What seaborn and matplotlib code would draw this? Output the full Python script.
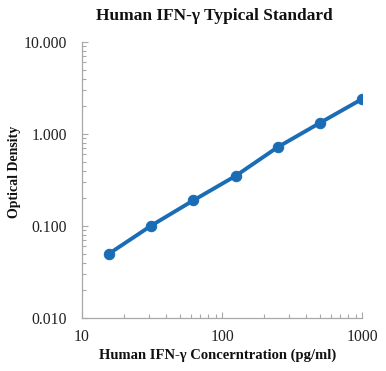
import matplotlib
matplotlib.use("Agg")
import matplotlib.pyplot as plt
import matplotlib.ticker as mticker
import seaborn as sns
import pandas as pd

concentration = [15.6, 31.25, 62.5, 125, 250, 500, 1000]
optical_density = [0.050, 0.101, 0.190, 0.350, 0.720, 1.320, 2.400]
x_ticks = [10, 100, 1000]
y_ticks = [0.01, 0.1, 1, 10]
y_tick_labels = ["0.010", "0.100", "1.000", "10.000"]

df = pd.DataFrame({"conc": concentration, "od": optical_density})

sns.set_theme(style="white")
plt.rcParams['font.family'] = ['Liberation Serif', 'DejaVu Serif']

fig = plt.figure(figsize=(3.86, 3.71), dpi=100)
ax = fig.add_axes([0.2124, 0.1429, 0.7256, 0.7439])
color = "#1a6db5"
sns.lineplot(data=df, x="conc", y="od", ax=ax, color=color, linewidth=2.8,
             marker="o", markersize=7.5, markeredgecolor=color)
ax.set_xscale("log")
ax.set_yscale("log")
ax.set_xlim(10, 1000)
ax.set_ylim(0.01, 10)
ax.set_xticks(x_ticks)
ax.set_xticklabels([str(t) for t in x_ticks])
ax.set_yticks(y_ticks)
ax.set_yticklabels(y_tick_labels)
ax.xaxis.set_minor_locator(mticker.LogLocator(base=10, subs=range(2, 10)))
ax.yaxis.set_minor_locator(mticker.LogLocator(base=10, subs=range(2, 10)))
ax.xaxis.set_minor_formatter(mticker.NullFormatter())
ax.yaxis.set_minor_formatter(mticker.NullFormatter())
ax.tick_params(axis="both", which="both", left=True, bottom=True)
ax.tick_params(axis="both", which="major", direction="in", length=4, width=0.8,
               color="#a8a8a8", labelsize=11.3, labelcolor="#222222")
ax.tick_params(axis="both", which="minor", direction="in", length=3, width=0.8,
               color="#a8a8a8")
ax.tick_params(axis="y", which="major", pad=11)
ax.tick_params(axis="x", which="major", pad=8)
for s in ["top", "right"]:
    ax.spines[s].set_visible(False)
for s in ["left", "bottom"]:
    ax.spines[s].set_color("#a8a8a8")
    ax.spines[s].set_linewidth(0.9)
ax.set_xlabel("Human IFN-γ Concerntration (pg/ml)", fontsize=10.5, fontweight="bold",
              color="#111111")
ax.xaxis.set_label_coords((218 - 82) / 280, -(349 - 318) / 276, transform=ax.transAxes)
ax.set_ylabel("Optical Density", fontsize=10, fontweight="bold", color="#111111")
ax.yaxis.set_label_coords(-(82 - 21) / 280, (318 - 172) / 276, transform=ax.transAxes)
fig.suptitle("Human IFN-γ Typical Standard", fontsize=12.5, fontweight="bold",
             color="#111111", x=214 / 386, y=0.978)
fig.savefig("out.png", dpi=100, facecolor="white")
